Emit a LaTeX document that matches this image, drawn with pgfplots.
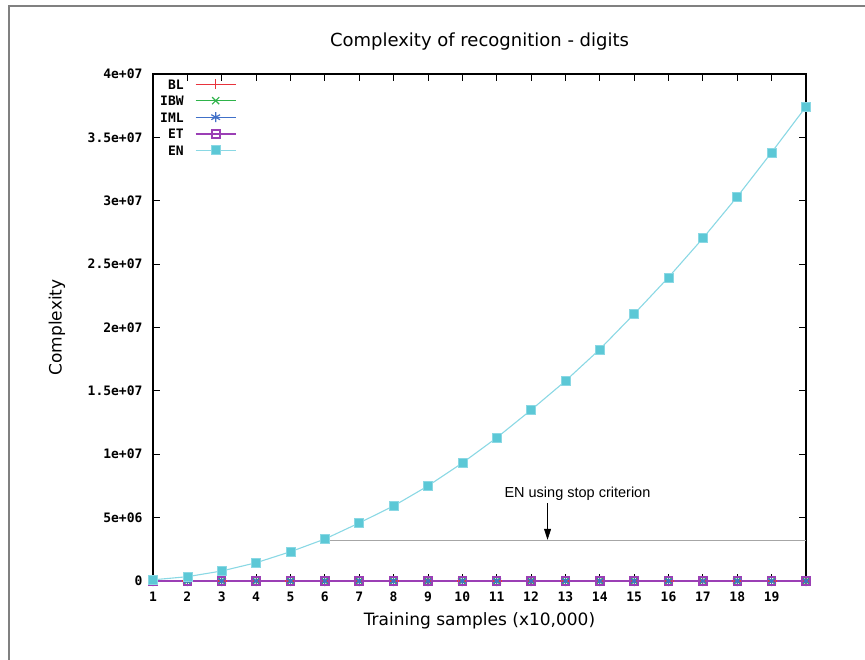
\documentclass[border=0pt]{standalone}
\usepackage{fontspec}
\setmainfont{DejaVu Sans}
\newfontfamily\tickfont{DejaVu Sans Mono}
\newfontfamily\arialfont{Liberation Sans}
\usepackage{pgfplots}
\pgfplotsset{compat=1.18}
\usetikzlibrary{arrows.meta}
\definecolor{cBL}{HTML}{E8333D}
\definecolor{cIBW}{HTML}{2EB34A}
\definecolor{cIML}{HTML}{4070C8}
\definecolor{cET}{HTML}{9B3FB5}
\definecolor{cEN}{HTML}{5CC8D6}
\definecolor{cENl}{HTML}{8AD8E4}
\definecolor{framegray}{HTML}{808080}
\pgfplotsset{
  stBL/.style={draw=cBL, line width=1.2pt, mark=+, mark size=5pt, mark options={draw=cBL}},
  stIBW/.style={draw=cIBW, line width=1.2pt, mark=x, mark size=5pt, mark options={draw=cIBW}},
  stIML/.style={draw=cIML, line width=1.2pt, mark=asterisk, mark size=5pt, mark options={draw=cIML}},
  stET/.style={draw=cET, line width=1.3pt, mark=square, mark size=4pt, mark options={draw=cET, fill=none, line width=1.5pt}},
  stEN/.style={draw=cENl, line width=1.1pt, mark=square*, mark size=4.5pt, mark options={fill=cEN, draw=cENl, line width=0.6pt}},
}
\begin{document}
\begin{tikzpicture}[x=1pt,y=1pt]
\useasboundingbox (0,0) rectangle (865,659);
\draw[line width=2pt, framegray] (9,-5) -- (9,653) -- (870,653);
\begin{axis}[
  at={(153pt,78pt)}, anchor=south west,
  scale only axis, width=653pt, height=507pt,
  xmin=1, xmax=20, ymin=0, ymax=4e7,
  clip=false,
  xtick={1,2,3,4,5,6,7,8,9,10,11,12,13,14,15,16,17,18,19},
  xticklabels={1,2,3,4,5,6,7,8,9,10,11,12,13,14,15,16,17,18,19},
  ytick={0,5e6,1e7,1.5e7,2e7,2.5e7,3e7,3.5e7,4e7},
  yticklabels={0,5e+06,1e+07,1.5e+07,2e+07,2.5e+07,3e+07,3.5e+07,4e+07},
  scaled y ticks=false, scaled x ticks=false,
  tick align=inside,
  major tick length=7pt,
  every tick/.style={black, line width=0.8pt},
  axis line style={line width=1.2pt, black},
  tick label style={font=\tickfont\bfseries\fontsize{13}{13}\selectfont},
  yticklabel style={xshift=-7pt},
  xticklabel style={yshift=-7pt},
  title={Complexity of recognition - digits},
  title style={at={(axis description cs:0.5,1.053)}, anchor=center, font=\fontsize{18}{18}\selectfont},
  xlabel={Training samples (x10,000)},
  xlabel style={at={(axis description cs:0.5,-0.079)}, anchor=center, font=\fontsize{17}{17}\selectfont},
  ylabel={Complexity},
  ylabel style={at={(axis description cs:-0.147,0.5)}, anchor=center, font=\fontsize{17}{17}\selectfont},
  legend plot pos=right,
  legend cell align=right,
  legend image code/.code={\draw[mark repeat=2,mark phase=2] plot coordinates {(0pt,0pt)(20pt,0pt)(40pt,0pt)};},
  legend style={draw=none, fill=none, at={(axis description cs:0,1)}, anchor=north west,
    xshift=4pt, yshift=-3pt,
    font=\tickfont\bfseries\fontsize{13}{13}\selectfont,
    row sep=6.5pt, column sep=11pt,
    nodes={inner sep=0pt, text height=10pt, text depth=0pt}},
]
\addlegendimage{stBL}\addlegendentry{BL}
\addlegendimage{stIBW}\addlegendentry{IBW}
\addlegendimage{stIML}\addlegendentry{IML}
\addlegendimage{stET, line width=2pt, mark options={draw=cET, fill=none, line width=1.8pt}}\addlegendentry{ET}
\addlegendimage{stEN}\addlegendentry{EN}
\addplot[stBL, forget plot] coordinates {
(1,0)(2,0)(3,0)(4,0)(5,0)(6,0)(7,0)(8,0)(9,0)(10,0)(11,0)(12,0)(13,0)(14,0)(15,0)(16,0)(17,0)(18,0)(19,0)(20,0)};
\addplot[stIBW, forget plot] coordinates {
(1,0)(2,0)(3,0)(4,0)(5,0)(6,0)(7,0)(8,0)(9,0)(10,0)(11,0)(12,0)(13,0)(14,0)(15,0)(16,0)(17,0)(18,0)(19,0)(20,0)};
\addplot[stIML, forget plot] coordinates {
(1,0)(2,0)(3,0)(4,0)(5,0)(6,0)(7,0)(8,0)(9,0)(10,0)(11,0)(12,0)(13,0)(14,0)(15,0)(16,0)(17,0)(18,0)(19,0)(20,0)};
\addplot[stET, forget plot] coordinates {
(1,0)(2,0)(3,0)(4,0)(5,0)(6,0)(7,0)(8,0)(9,0)(10,0)(11,0)(12,0)(13,0)(14,0)(15,0)(16,0)(17,0)(18,0)(19,0)(20,0)};
\addplot[stEN, forget plot] coordinates {
(1,9.4e4)(2,3.4e5)(3,7.9e5)(4,1.44e6)(5,2.31e6)(6,3.31e6)(7,4.58e6)(8,5.92e6)(9,7.5e6)(10,9.31e6)
(11,1.13e7)(12,1.349e7)(13,1.578e7)(14,1.828e7)(15,2.107e7)(16,2.396e7)(17,2.704e7)(18,3.032e7)(19,3.382e7)(20,3.742e7)};
\addplot[gray!70, line width=0.8pt, forget plot] coordinates {(6.1,3.22e6)(20,3.22e6)};
\draw[black, line width=0.6pt, -{Triangle[width=7pt,length=11pt]}] (axis cs:12.48,6.15e6) -- (axis cs:12.48,3.25e6);
\node[font=\arialfont\fontsize{14.5}{14.5}\selectfont, anchor=center] at (axis cs:13.35,6.86e6) {EN using stop criterion};
\end{axis}
\end{tikzpicture}
\end{document}
